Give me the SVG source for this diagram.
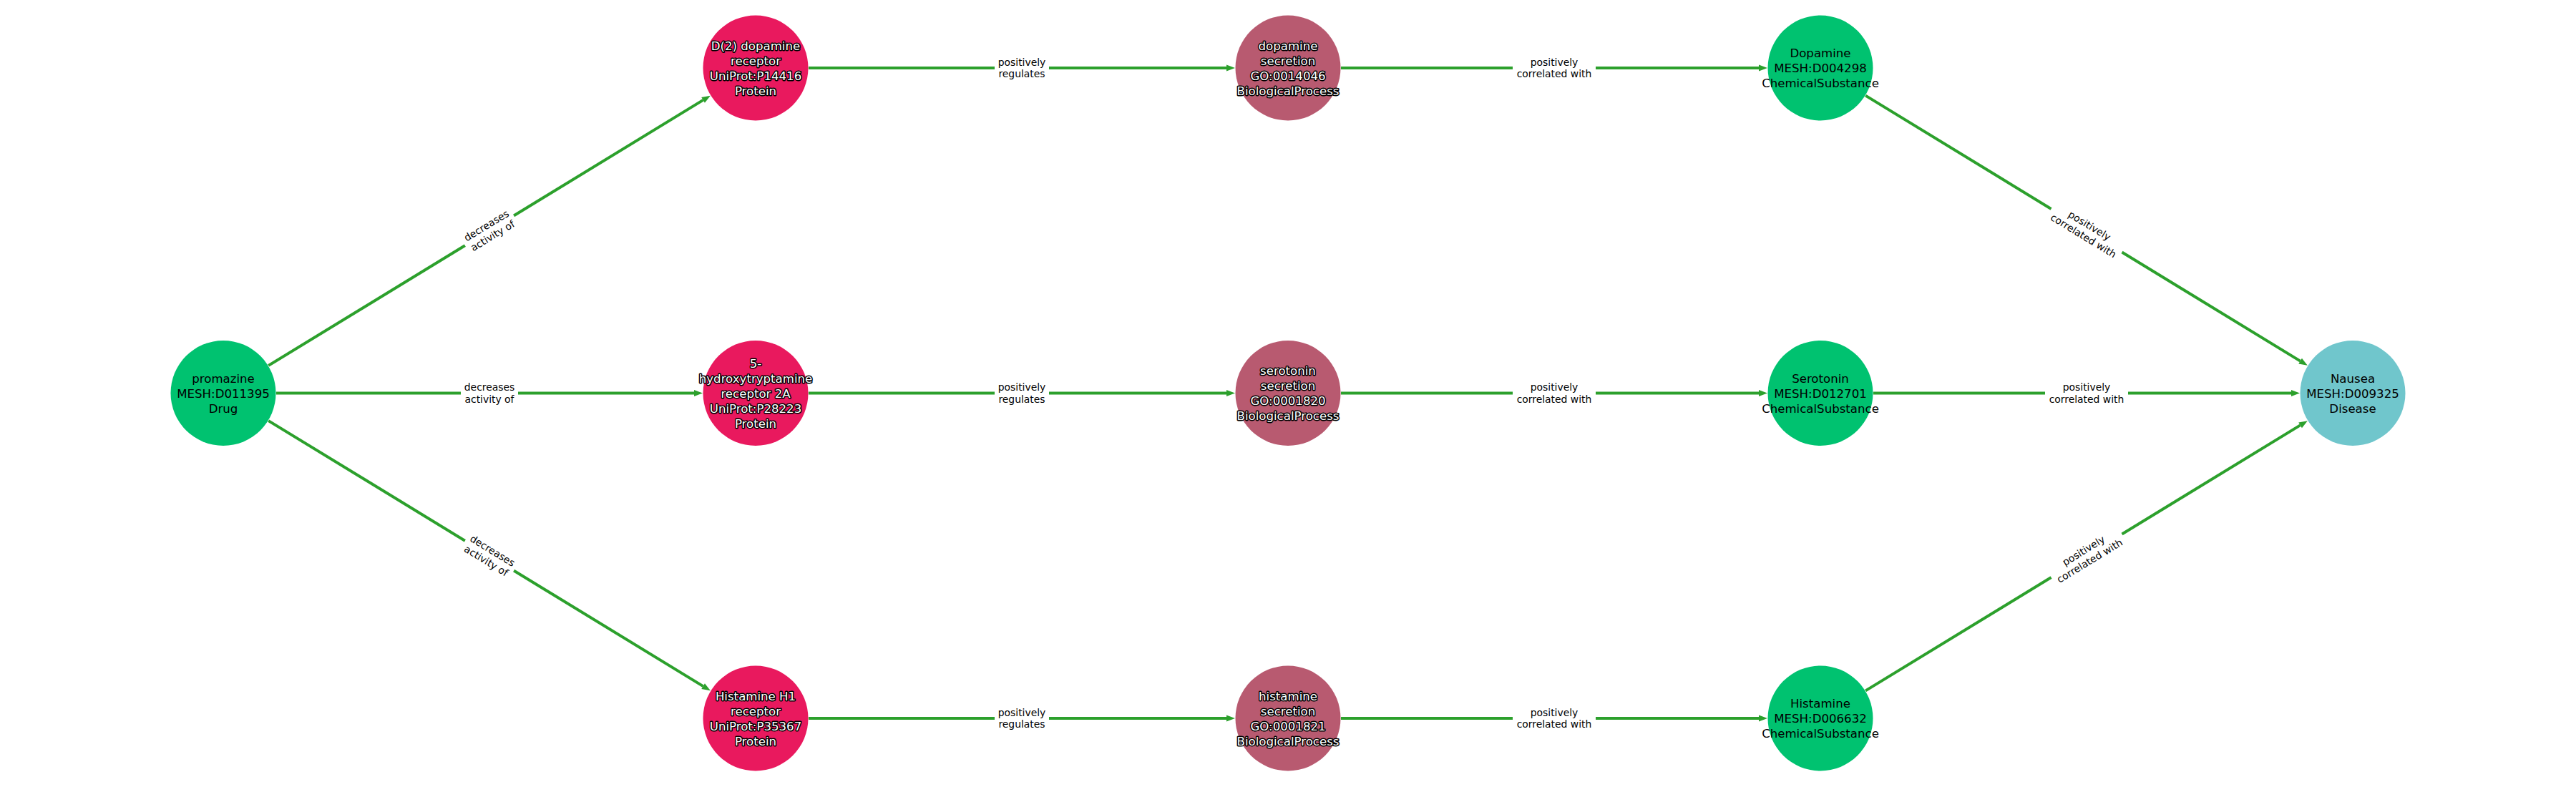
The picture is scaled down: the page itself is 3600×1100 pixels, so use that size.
<svg xmlns="http://www.w3.org/2000/svg" width="3600" height="1100" viewBox="0 0 3600 1100">
<style>
.bg{fill:#ffffff}
.edge{stroke:#2ca02c;stroke-width:4;fill:none;marker-end:url(#arrow)}
.lblbox{fill:#ffffff;stroke:none}
.elbl{font-family:"DejaVu Sans",sans-serif;font-size:13.9px;fill:#000;text-anchor:middle;dominant-baseline:central}
.nlbl{font-family:"DejaVu Sans",sans-serif;font-size:16.6px;text-anchor:middle;dominant-baseline:central}
.dark{fill:#000}
.light{fill:#fff;stroke:#000;stroke-width:3;paint-order:stroke;stroke-linejoin:round}
.chem{fill:#00c270}
.prot{fill:#e9195e}
.bio{fill:#b85a70}
.dis{fill:#70c6cc}
</style>
<defs>
<marker id="arrow" markerUnits="userSpaceOnUse" markerWidth="12" markerHeight="10" viewBox="0 -5 12 10" refX="0" refY="0" orient="auto" overflow="visible">
<path d="M0,-4.5 L12,0 L0,4.5 z" fill="#2ca02c"/>
</marker>
</defs>
<rect class="bg" x="0" y="0" width="3600" height="1100"/>
<g id="edges">
<line class="edge" x1="375.2" y1="510.9" x2="982.6" y2="139.9"/>
<line class="edge" x1="386" y1="549.5" x2="970" y2="549.5"/>
<line class="edge" x1="375.2" y1="588.1" x2="982.6" y2="959.1"/>
<line class="edge" x1="1130" y1="95" x2="1714" y2="95"/>
<line class="edge" x1="1130" y1="549.5" x2="1714" y2="549.5"/>
<line class="edge" x1="1130" y1="1004" x2="1714" y2="1004"/>
<line class="edge" x1="1874" y1="95" x2="2458" y2="95"/>
<line class="edge" x1="1874" y1="549.5" x2="2458" y2="549.5"/>
<line class="edge" x1="1874" y1="1004" x2="2458" y2="1004"/>
<line class="edge" x1="2607.2" y1="133.6" x2="3214.6" y2="504.6"/>
<line class="edge" x1="2618" y1="549.5" x2="3202" y2="549.5"/>
<line class="edge" x1="2607.2" y1="965.4" x2="3214.6" y2="594.4"/>
<g id="edge-labels">
<g transform="translate(684,322.3) rotate(-31.4)"><rect class="lblbox" x="-40" y="-19" width="80" height="38"/><text class="elbl"><tspan x="0" y="-8.3">decreases</tspan><tspan x="0" y="8.3">activity of</tspan></text></g>
<g transform="translate(684,549.5)"><rect class="lblbox" x="-40" y="-19" width="80" height="38"/><text class="elbl"><tspan x="0" y="-8.3">decreases</tspan><tspan x="0" y="8.3">activity of</tspan></text></g>
<g transform="translate(684,776.7) rotate(31.4)"><rect class="lblbox" x="-40" y="-19" width="80" height="38"/><text class="elbl"><tspan x="0" y="-8.3">decreases</tspan><tspan x="0" y="8.3">activity of</tspan></text></g>
<g transform="translate(1428,95)"><rect class="lblbox" x="-38" y="-19" width="76" height="38"/><text class="elbl"><tspan x="0" y="-8.3">positively</tspan><tspan x="0" y="8.3">regulates</tspan></text></g>
<g transform="translate(1428,549.5)"><rect class="lblbox" x="-38" y="-19" width="76" height="38"/><text class="elbl"><tspan x="0" y="-8.3">positively</tspan><tspan x="0" y="8.3">regulates</tspan></text></g>
<g transform="translate(1428,1004)"><rect class="lblbox" x="-38" y="-19" width="76" height="38"/><text class="elbl"><tspan x="0" y="-8.3">positively</tspan><tspan x="0" y="8.3">regulates</tspan></text></g>
<g transform="translate(2172,95)"><rect class="lblbox" x="-58" y="-19" width="116" height="38"/><text class="elbl"><tspan x="0" y="-8.3">positively</tspan><tspan x="0" y="8.3">correlated with</tspan></text></g>
<g transform="translate(2172,549.5)"><rect class="lblbox" x="-58" y="-19" width="116" height="38"/><text class="elbl"><tspan x="0" y="-8.3">positively</tspan><tspan x="0" y="8.3">correlated with</tspan></text></g>
<g transform="translate(2172,1004)"><rect class="lblbox" x="-58" y="-19" width="116" height="38"/><text class="elbl"><tspan x="0" y="-8.3">positively</tspan><tspan x="0" y="8.3">correlated with</tspan></text></g>
<g transform="translate(2916,322.3) rotate(31.4)"><rect class="lblbox" x="-58" y="-19" width="116" height="38"/><text class="elbl"><tspan x="0" y="-8.3">positively</tspan><tspan x="0" y="8.3">correlated with</tspan></text></g>
<g transform="translate(2916,549.5)"><rect class="lblbox" x="-58" y="-19" width="116" height="38"/><text class="elbl"><tspan x="0" y="-8.3">positively</tspan><tspan x="0" y="8.3">correlated with</tspan></text></g>
<g transform="translate(2916,776.7) rotate(-31.4)"><rect class="lblbox" x="-58" y="-19" width="116" height="38"/><text class="elbl"><tspan x="0" y="-8.3">positively</tspan><tspan x="0" y="8.3">correlated with</tspan></text></g>
</g>
</g>
<g id="node-promazine"><circle class="chem" cx="312" cy="549.5" r="73.5"/><text class="nlbl dark"><tspan x="312" y="528.5">promazine</tspan><tspan x="312" y="549.5">MESH:D011395</tspan><tspan x="312" y="570.5">Drug</tspan></text></g>
<g id="node-d2"><circle class="prot" cx="1056" cy="95" r="73.5"/><text class="nlbl light"><tspan x="1056" y="63.5">D(2) dopamine</tspan><tspan x="1056" y="84.5">receptor</tspan><tspan x="1056" y="105.5">UniProt:P14416</tspan><tspan x="1056" y="126.5">Protein</tspan></text></g>
<g id="node-5ht2a"><circle class="prot" cx="1056" cy="549.5" r="73.5"/><text class="nlbl light"><tspan x="1056" y="507.5">5-</tspan><tspan x="1056" y="528.5">hydroxytryptamine</tspan><tspan x="1056" y="549.5">receptor 2A</tspan><tspan x="1056" y="570.5">UniProt:P28223</tspan><tspan x="1056" y="591.5">Protein</tspan></text></g>
<g id="node-h1"><circle class="prot" cx="1056" cy="1004" r="73.5"/><text class="nlbl light"><tspan x="1056" y="972.5">Histamine H1</tspan><tspan x="1056" y="993.5">receptor</tspan><tspan x="1056" y="1014.5">UniProt:P35367</tspan><tspan x="1056" y="1035.5">Protein</tspan></text></g>
<g id="node-dopsec"><circle class="bio" cx="1800" cy="95" r="73.5"/><text class="nlbl light"><tspan x="1800" y="63.5">dopamine</tspan><tspan x="1800" y="84.5">secretion</tspan><tspan x="1800" y="105.5">GO:0014046</tspan><tspan x="1800" y="126.5">BiologicalProcess</tspan></text></g>
<g id="node-sersec"><circle class="bio" cx="1800" cy="549.5" r="73.5"/><text class="nlbl light"><tspan x="1800" y="518">serotonin</tspan><tspan x="1800" y="539">secretion</tspan><tspan x="1800" y="560">GO:0001820</tspan><tspan x="1800" y="581">BiologicalProcess</tspan></text></g>
<g id="node-hissec"><circle class="bio" cx="1800" cy="1004" r="73.5"/><text class="nlbl light"><tspan x="1800" y="972.5">histamine</tspan><tspan x="1800" y="993.5">secretion</tspan><tspan x="1800" y="1014.5">GO:0001821</tspan><tspan x="1800" y="1035.5">BiologicalProcess</tspan></text></g>
<g id="node-dopamine"><circle class="chem" cx="2544" cy="95" r="73.5"/><text class="nlbl dark"><tspan x="2544" y="74">Dopamine</tspan><tspan x="2544" y="95">MESH:D004298</tspan><tspan x="2544" y="116">ChemicalSubstance</tspan></text></g>
<g id="node-serotonin"><circle class="chem" cx="2544" cy="549.5" r="73.5"/><text class="nlbl dark"><tspan x="2544" y="528.5">Serotonin</tspan><tspan x="2544" y="549.5">MESH:D012701</tspan><tspan x="2544" y="570.5">ChemicalSubstance</tspan></text></g>
<g id="node-histamine"><circle class="chem" cx="2544" cy="1004" r="73.5"/><text class="nlbl dark"><tspan x="2544" y="983">Histamine</tspan><tspan x="2544" y="1004">MESH:D006632</tspan><tspan x="2544" y="1025">ChemicalSubstance</tspan></text></g>
<g id="node-nausea"><circle class="dis" cx="3288" cy="549.5" r="73.5"/><text class="nlbl dark"><tspan x="3288" y="528.5">Nausea</tspan><tspan x="3288" y="549.5">MESH:D009325</tspan><tspan x="3288" y="570.5">Disease</tspan></text></g>
</svg>
